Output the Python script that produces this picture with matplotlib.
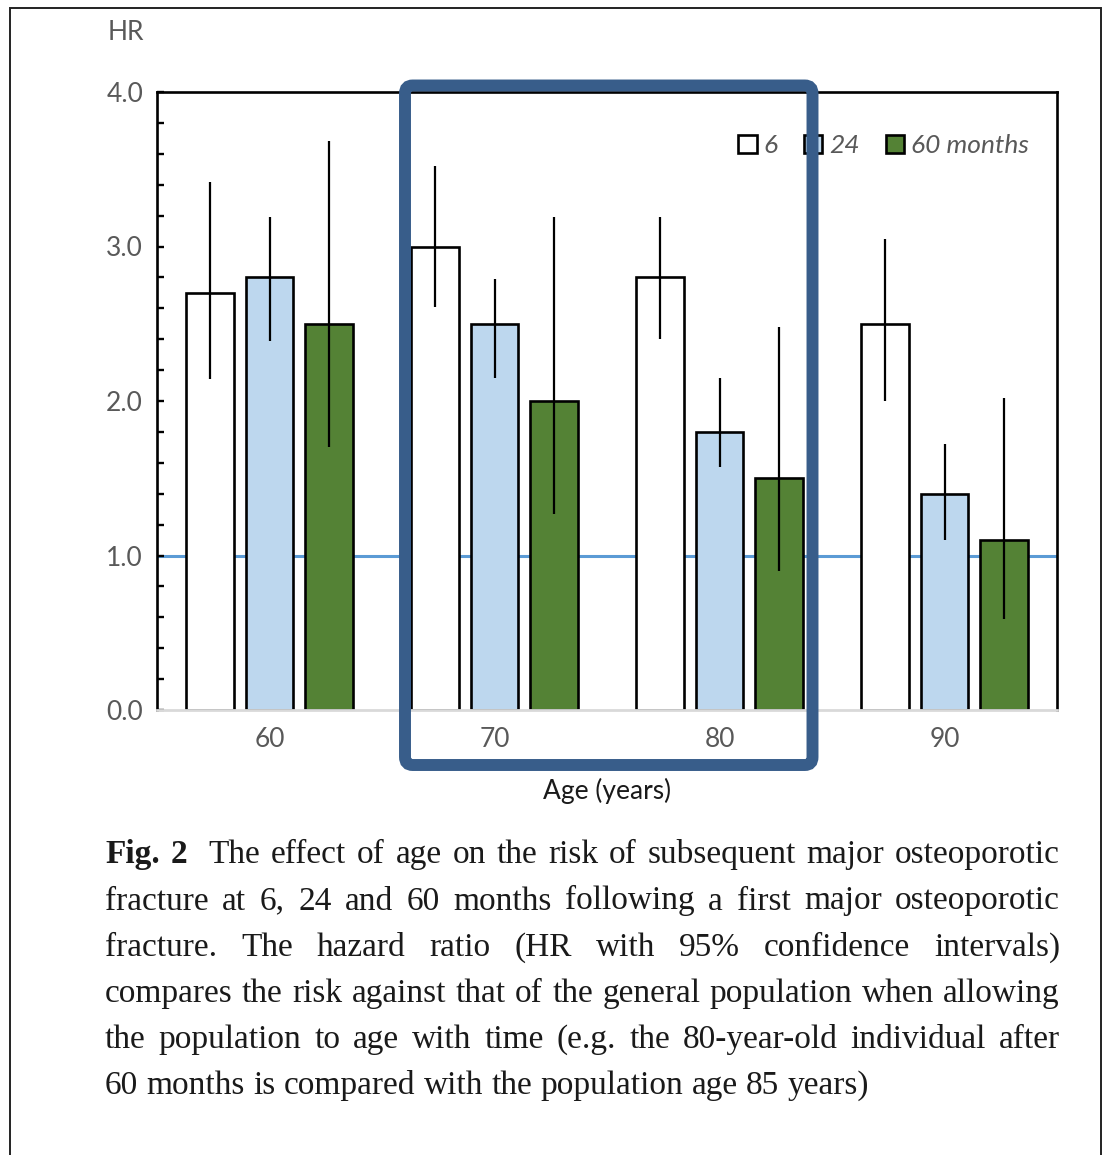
import matplotlib
matplotlib.use('Agg')
import matplotlib.pyplot as plt
from matplotlib.patches import Rectangle, FancyBboxPatch, Patch
from matplotlib.ticker import MultipleLocator
import numpy as np

# Hazard ratios by age group (6, 24, 60 months) with 95% CI
ages = ['60', '70', '80', '90']
series = ['6', '24', '60 months']
hr_6 = [2.7, 3.0, 2.8, 2.5]
hr_24 = [2.8, 2.5, 1.8, 1.4]
hr_60 = [2.5, 2.0, 1.5, 1.1]
lo_6 = [2.14, 2.61, 2.40, 2.00]
hi_6 = [3.42, 3.52, 3.19, 3.05]
lo_24 = [2.39, 2.15, 1.57, 1.10]
hi_24 = [3.19, 2.79, 2.15, 1.72]
lo_60 = [1.70, 1.27, 0.90, 0.59]
hi_60 = [3.68, 3.19, 2.48, 2.02]

caption_lines = [
    'Fig. 2  The effect of age on the risk of subsequent major osteoporotic',
    'fracture at 6, 24 and 60 months following a first major osteoporotic',
    'fracture. The hazard ratio (HR with 95% confidence intervals)',
    'compares the risk against that of the general population when allowing',
    'the population to age with time (e.g. the 80-year-old individual after',
    '60 months is compared with the population age 85 years)',
]

W, H = 1105, 1155
fig = plt.figure(figsize=(W / 100, H / 100), dpi=100)
ax = fig.add_axes([157 / W, 1 - 710 / H, 900 / W, 618 / H])

grey = '#595959'
colors = ['white', '#bdd7ee', '#548235']
sans = 'Lato'

x = np.arange(len(ages))
width = 0.213
offsets = [-0.265, 0.0, 0.265]
vals = [hr_6, hr_24, hr_60]
los = [lo_6, lo_24, lo_60]
his = [hi_6, hi_24, hi_60]

ax.axhline(1.0, color='#5b9bd5', lw=2.2, zorder=0.5)
for v, lo, hi, off, c, name in zip(vals, los, his, offsets, colors, series):
    v = np.array(v)
    ax.bar(x + off, v, width, color=c, edgecolor='black', linewidth=1.9,
           zorder=1, label=name)
    yerr = [v - np.array(lo), np.array(hi) - v]
    ax.errorbar(x + off, v, yerr=yerr, fmt='none', ecolor='black',
                elinewidth=1.6, capsize=0, zorder=3)

ax.set_xlim(-0.5, 3.5)
ax.set_ylim(0, 4)
ax.set_xticks(x)
ax.set_xticklabels(ages, fontsize=19, color=grey, family=sans)
ax.tick_params(axis='x', length=0, pad=12)
ax.yaxis.set_major_locator(MultipleLocator(1))
ax.yaxis.set_minor_locator(MultipleLocator(0.2))
ax.set_yticklabels([f'{t:.1f}' for t in ax.get_yticks()],
                   fontsize=19, color=grey, family=sans)
ax.tick_params(axis='y', which='both', direction='in', length=5, width=1.7,
               pad=10)
for s in ['left', 'top', 'right']:
    ax.spines[s].set_linewidth(1.9)
ax.spines['bottom'].set_color('#d9d9d9')
ax.spines['bottom'].set_linewidth(2)
ax.spines['bottom'].set_zorder(2.5)

ax.set_xlabel('Age (years)', fontsize=19, family=sans, color='#1a1a1a',
              labelpad=19)
fig.text(126 / W, 1 - 32 / H, 'HR', fontsize=19, family=sans, color=grey,
         ha='center', va='center')

handles = [Patch(facecolor=c, edgecolor='black', linewidth=1.9)
           for c in colors]
leg = ax.legend(handles, series, loc='upper right', ncol=3, frameon=False,
                bbox_to_anchor=(0.995, 0.97), handlelength=0.7,
                handleheight=0.7, handletextpad=0.25, columnspacing=1.0,
                prop={'family': sans, 'style': 'italic', 'size': 19})
for t in leg.get_texts():
    t.set_color(grey)

# highlight box around the 70 and 80 groups
box = FancyBboxPatch((405 / W, 1 - 765 / H), 407.5 / W, 679.5 / H,
                     boxstyle='round,pad=0,rounding_size=0.007',
                     transform=fig.transFigure, fill=False,
                     edgecolor='#385d8a', linewidth=8.6, zorder=10)
fig.add_artist(box)

# outer frame
frame = Rectangle((10 / W, -0.02), 1091 / W, 1 - 8 / H + 0.02,
                  transform=fig.transFigure, fill=False,
                  edgecolor='#222222', linewidth=1.4)
fig.add_artist(frame)

# justified caption; the gap after "Fig. 2" counts double
renderer = fig.canvas.get_renderer()
cap_size = 24
x0, x1 = 105, 1060
baselines = [863, 909.5, 956, 1002, 1048, 1094]
space = cap_size * 100 / 72 * 0.25
for i, (line, yb) in enumerate(zip(caption_lines, baselines)):
    words = line.split()
    texts = []
    for j, w in enumerate(words):
        bold = (i == 0 and j < 2)
        t = fig.text(0, 1 - yb / H, w, fontsize=cap_size,
                     family='Liberation Serif', color='#1a1a1a',
                     weight='bold' if bold else 'normal', va='baseline')
        texts.append(t)
    widths = [t.get_window_extent(renderer).width for t in texts]
    weights = [1.0] * (len(words) - 1)
    if i == 0:
        weights[1] = 2.0
    if i < len(caption_lines) - 1:
        unit = (x1 - x0 - sum(widths)) / sum(weights)
    else:
        unit = space
    pos = x0
    for k, (t, w) in enumerate(zip(texts, widths)):
        t.set_x(pos / W)
        if k < len(weights):
            pos += w + unit * weights[k]

fig.savefig('out.png', dpi=100)
